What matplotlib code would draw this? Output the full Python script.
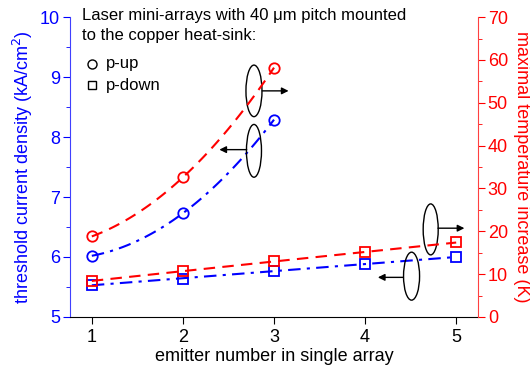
import numpy as np
import matplotlib
matplotlib.use("Agg")
import matplotlib.pyplot as plt
from matplotlib.patches import Ellipse
from matplotlib.ticker import MultipleLocator

plt.rcParams['font.family'] = ['Liberation Sans', 'DejaVu Sans']

# data
x_up = [1, 2, 3]
x_down = [1, 2, 3, 4, 5]
jth_up = [6.02, 6.73, 8.29]
jth_down = [5.53, 5.64, 5.77, 5.88, 6.0]
dT_up = [18.8, 32.6, 58.2]
dT_down = [8.4, 10.7, 13.0, 15.1, 17.4]

BLUE = '#0000ff'
RED = '#ff0000'

fig = plt.figure(figsize=(5.30, 3.72), dpi=100)
ax = fig.add_axes([0.132, 0.148, 0.770, 0.806])
ax2 = ax.twinx()

def smooth(x, y, deg=2):
    p = np.polyfit(x, y, deg)
    xs = np.linspace(min(x), max(x), 100)
    return xs, np.polyval(p, xs)

# left axis (blue)
xs, ys = smooth(x_up, jth_up)
ax.plot(xs, ys, color=BLUE, lw=1.5, ls=(0, (6, 3, 1.5, 3)))
xs, ys = smooth(x_down, jth_down)
ax.plot(xs, ys, color=BLUE, lw=1.5, ls=(0, (6, 3, 1.5, 3)))
ax.plot(x_up, jth_up, 'o', ms=7.5, mfc='none', mec=BLUE, mew=1.3)
ax.plot(x_down, jth_down, 's', ms=7, mfc='none', mec=BLUE, mew=1.3)

# right axis (red)
xs, ys = smooth(x_up, dT_up)
ax2.plot(xs, ys, color=RED, lw=1.5, ls=(0, (5.5, 3.5)))
xs, ys = smooth(x_down, dT_down)
ax2.plot(xs, ys, color=RED, lw=1.5, ls=(0, (5.5, 3.5)))
ax2.plot(x_up, dT_up, 'o', ms=7.5, mfc='none', mec=RED, mew=1.3)
ax2.plot(x_down, dT_down, 's', ms=7, mfc='none', mec=RED, mew=1.3)

ax.set_xlim(0.76, 5.24)
ax.set_ylim(5, 10)
ax2.set_ylim(0, 70)

ax.set_xticks([1, 2, 3, 4, 5])
ax.yaxis.set_major_locator(MultipleLocator(1))
ax.yaxis.set_minor_locator(MultipleLocator(0.5))
ax2.yaxis.set_major_locator(MultipleLocator(10))
ax2.yaxis.set_minor_locator(MultipleLocator(5))

for a in (ax, ax2):
    a.spines['top'].set_visible(False)
ax.spines['right'].set_visible(False)
ax2.spines['left'].set_visible(False)
ax2.spines['bottom'].set_visible(False)
ax.spines['left'].set_color('#4040ff')
ax2.spines['right'].set_color('#ff4040')
ax.spines['bottom'].set_color('black')

ax.tick_params(axis='x', direction='out', length=5, labelsize=13, colors='black', pad=4)
ax.tick_params(axis='y', which='major', direction='out', length=5, labelsize=13,
               colors=BLUE, pad=2)
ax.tick_params(axis='y', which='minor', direction='out', length=3, colors=BLUE)
ax2.tick_params(axis='y', which='major', direction='out', length=5, labelsize=13,
                colors=RED, pad=2)
ax2.tick_params(axis='y', which='minor', direction='out', length=3, colors=RED)

ax.set_xlabel('emitter number in single array', fontsize=13, labelpad=1)
ax.set_ylabel('threshold current density (kA/cm$^2$)', fontsize=13, color=BLUE, labelpad=4)
ax2.set_ylabel('maximal temperature increase (K)', fontsize=13, color=RED,
               rotation=270, labelpad=16)

# legend-like text
ax.text(0.03, 1.03, 'Laser mini-arrays with 40 \u03bcm pitch mounted\nto the copper heat-sink:',
        transform=ax.transAxes, fontsize=12, va='top', ha='left', linespacing=1.4)
ax.plot([0.055], [0.845], 'o', ms=6.5, mfc='none', mec='black', mew=1.0,
        transform=ax.transAxes, clip_on=False)
ax.text(0.087, 0.845, 'p-up', transform=ax.transAxes, fontsize=12, va='center')
ax.plot([0.055], [0.772], 's', ms=6, mfc='none', mec='black', mew=1.0,
        transform=ax.transAxes, clip_on=False)
ax.text(0.087, 0.772, 'p-down', transform=ax.transAxes, fontsize=12, va='center')

# ellipse + arrow annotations
ells = [(2.78, 8.77, 0.176, 0.86), (2.78, 7.77, 0.165, 0.88),
        (4.72, 6.46, 0.165, 0.85), (4.51, 5.68, 0.176, 0.80)]
for cx, cy, w, h in ells:
    ax.add_patch(Ellipse((cx, cy), w, h, fill=False, ec='black', lw=1.0, zorder=5))
arrows = [((2.87, 8.77), (3.16, 8.77)), ((2.70, 7.79), (2.40, 7.79)),
          ((4.80, 6.48), (5.09, 6.48)), ((4.42, 5.66), (4.14, 5.66))]
for (x0, y0), (x1, y1) in arrows:
    ax.annotate('', xy=(x1, y1), xytext=(x0, y0),
                arrowprops=dict(arrowstyle='-|>', color='black', lw=1.0,
                                mutation_scale=10, shrinkA=0, shrinkB=0))

fig.savefig('out.png', dpi=100)
